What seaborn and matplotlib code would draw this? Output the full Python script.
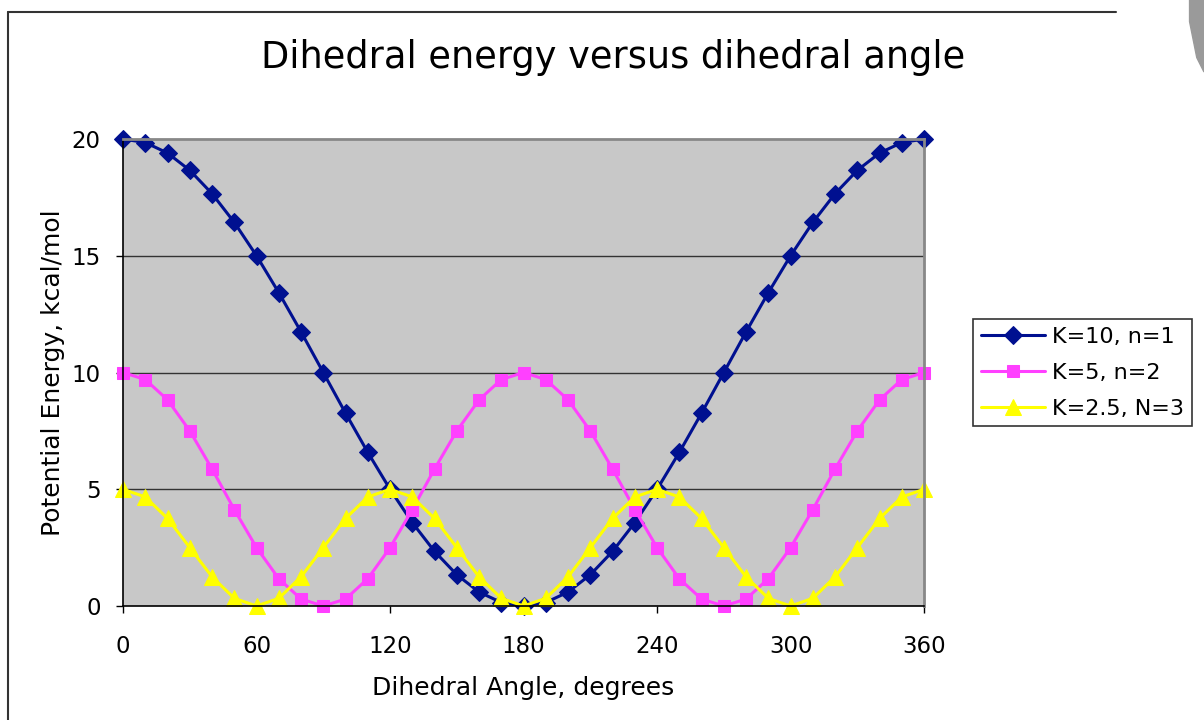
import matplotlib
matplotlib.use('Agg')
import matplotlib.pyplot as plt
from matplotlib.lines import Line2D
from matplotlib.patches import Polygon
import seaborn as sns
import pandas as pd

# data, 10 degree steps
angle = [0, 10, 20, 30, 40, 50, 60, 70, 80, 90, 100, 110, 120, 130, 140, 150, 160, 170, 180,
         190, 200, 210, 220, 230, 240, 250, 260, 270, 280, 290, 300, 310, 320, 330, 340, 350, 360]
e_k10 = [20, 19.85, 19.40, 18.66, 17.66, 16.43, 15.0, 13.42, 11.74, 10.0, 8.26, 6.58, 5.0, 3.57,
         2.34, 1.34, 0.60, 0.15, 0, 0.15, 0.60, 1.34, 2.34, 3.57, 5.0, 6.58, 8.26, 10.0, 11.74,
         13.42, 15.0, 16.43, 17.66, 18.66, 19.40, 19.85, 20]
e_k5 = [10, 9.70, 8.83, 7.5, 5.87, 4.13, 2.5, 1.17, 0.30, 0, 0.30, 1.17, 2.5, 4.13, 5.87, 7.5,
        8.83, 9.70, 10, 9.70, 8.83, 7.5, 5.87, 4.13, 2.5, 1.17, 0.30, 0, 0.30, 1.17, 2.5, 4.13,
        5.87, 7.5, 8.83, 9.70, 10]
e_k25 = [5, 4.67, 3.75, 2.5, 1.25, 0.33, 0, 0.33, 1.25, 2.5, 3.75, 4.67, 5, 4.67, 3.75, 2.5,
         1.25, 0.33, 0, 0.33, 1.25, 2.5, 3.75, 4.67, 5, 4.67, 3.75, 2.5, 1.25, 0.33, 0, 0.33,
         1.25, 2.5, 3.75, 4.67, 5]
labels = ['K=10, n=1', 'K=5, n=2', 'K=2.5, N=3']
x_ticks = [0, 60, 120, 180, 240, 300, 360]
y_ticks = [0, 5, 10, 15, 20]

sns.set_theme(style='white')
plt.rcParams['font.family'] = ['DejaVu Sans']
plt.rcParams['text.color'] = 'black'
plt.rcParams['axes.labelcolor'] = 'black'

df = pd.DataFrame({'angle': angle, labels[0]: e_k10, labels[1]: e_k5, labels[2]: e_k25})

fig = plt.figure(figsize=(12.04, 7.2), dpi=100)
ax = fig.add_axes([0.1022, 0.1583, 0.6653, 0.6486])
ax.set_facecolor('#c8c8c8')

styles = [('#001090', 'D', 9), ('#ff40ff', 's', 9), ('#ffff00', '^', 11)]
for lab, (col, mk, ms) in zip(labels, styles):
    sns.lineplot(data=df, x='angle', y=lab, ax=ax, color=col, marker=mk, markersize=ms,
                 markeredgecolor=col, linewidth=2.2, label=lab, clip_on=False)

ax.set_xlim(0, 360)
ax.set_ylim(0, 20)
ax.set_xticks(x_ticks)
ax.set_yticks(y_ticks)
ax.tick_params(axis='both', labelsize=16.5, colors='black', length=5, width=1,
               direction='out', bottom=True, left=True)
ax.tick_params(axis='x', pad=16)
ax.tick_params(axis='y', pad=11)
for y in y_ticks[1:-1]:
    ax.axhline(y, color='#333333', linewidth=1, zorder=0.5)
for s in ['top', 'right']:
    ax.spines[s].set_color('#888888')
    ax.spines[s].set_linewidth(2)
for s in ['left', 'bottom']:
    ax.spines[s].set_color('black')
    ax.spines[s].set_linewidth(1.2)

ax.set_xlabel('Dihedral Angle, degrees', fontsize=18, labelpad=13)
ax.set_ylabel('Potential Energy, kcal/mol', fontsize=18, labelpad=5)
fig.text(0.509, 0.92, 'Dihedral energy versus dihedral angle', fontsize=26.5,
         ha='center', va='center')

leg = ax.legend(loc='center left', bbox_to_anchor=(1.061, 0.5), fontsize=16, frameon=True,
                fancybox=False, framealpha=1, edgecolor='#333333', borderpad=0.35,
                handlelength=2.9, handletextpad=0.3, labelspacing=0.72, borderaxespad=0)
leg.get_frame().set_linewidth(1.2)

# outer chart frame and shadow of the screenshot
fig.add_artist(Line2D([0.0066, 0.927], [0.983, 0.983], color='#333333', linewidth=1.5))
fig.add_artist(Line2D([0.0066, 0.0066], [0.0, 0.983], color='#333333', linewidth=1.5))
fig.add_artist(Polygon([[0.988, 1.0], [1.0, 1.0], [1.0, 0.9], [0.994, 0.92], [0.988, 0.97]],
                       closed=True, transform=fig.transFigure, color='#9a9a9a'))

fig.savefig('out.png', dpi=100)
